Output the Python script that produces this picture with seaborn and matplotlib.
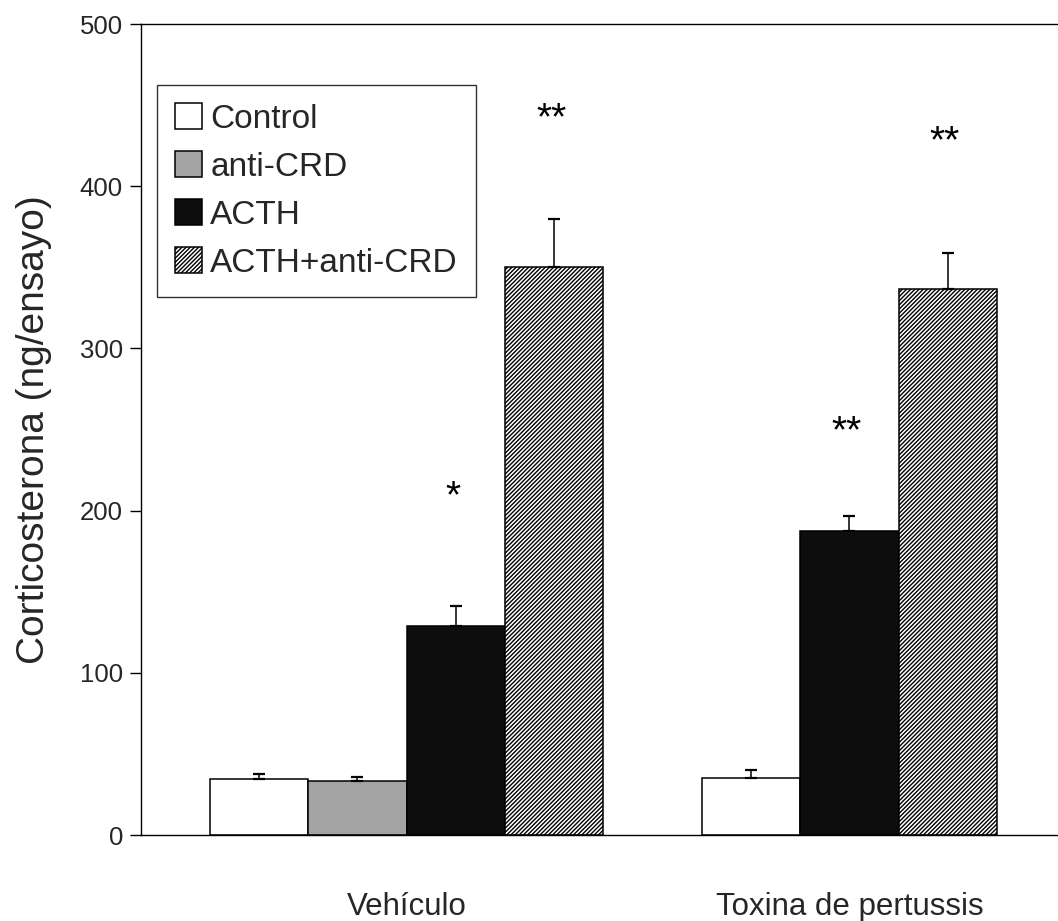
import matplotlib
matplotlib.use("Agg")
import matplotlib.pyplot as plt
import seaborn as sns
import pandas as pd
import numpy as np

# ---------------- data ----------------
groups = ["Vehículo", "Vehículo", "Vehículo", "Vehículo",
          "Toxina de pertussis", "Toxina de pertussis", "Toxina de pertussis"]
treatments = ["Control", "anti-CRD", "ACTH", "ACTH+anti-CRD",
              "Control", "ACTH", "ACTH+anti-CRD"]
means = [34.5, 33.5, 129, 350, 35.3, 187.4, 336.6]
sems = [3.0, 2.4, 12.0, 30.0, 4.7, 9.5, 22.5]
stars = ["", "", "*", "**", "", "**", "**"]
star_y = [None, None, 213, 446, None, 253, 432]

legend_order = ["Control", "anti-CRD", "ACTH", "ACTH+anti-CRD"]
group_labels = ["Vehículo", "Toxina de pertussis"]
yticks = [0, 100, 200, 300, 400, 500]
ylabel = "Corticosterona (ng/ensayo)"

# ---------------- layout / style ----------------
slot = [0, 1, 2, 3, 5, 6, 7]          # bar slots (gap between groups)
group_centers = [1.5, 6.0]
face = {"Control": "white", "anti-CRD": "#a3a3a3",
        "ACTH": "#0d0d0d", "ACTH+anti-CRD": "white"}
hatch = {"Control": "", "anti-CRD": "", "ACTH": "", "ACTH+anti-CRD": "////////"}

sns.set_theme(style="white")
plt.rcParams["font.family"] = ["Liberation Sans", "DejaVu Sans"]
plt.rcParams["hatch.linewidth"] = 1.0
plt.rcParams["hatch.color"] = "black"

df = pd.DataFrame({"slot": slot, "value": means, "treatment": treatments,
                   "group": groups, "sem": sems})

fig = plt.figure(figsize=(10.58, 9.21), dpi=100)
ax = fig.add_axes([141/1058, 1 - 835/921, 1 - 141/1058, (835 - 24)/921])

sns.barplot(data=df, x="slot", y="value", hue="treatment",
            hue_order=legend_order, palette=face, dodge=False,
            native_scale=True, width=1.0, errorbar=None,
            edgecolor="black", linewidth=1.1, legend=False, ax=ax)

for lvl, cont in zip(legend_order, ax.containers):
    for p in cont.patches:
        p.set_hatch(hatch[lvl])
        p.set_edgecolor("black")

# error bars (upper only)
ax.errorbar(df["slot"], df["value"], yerr=[np.zeros(len(df)), df["sem"]],
            fmt="none", ecolor="black", elinewidth=1.1, capsize=4.5,
            capthick=1.6, zorder=1)

# significance stars
for x, s, y in zip(slot, stars, star_y):
    if s:
        ax.annotate(s, xy=(x, y), xytext=(-2, -13), textcoords="offset points",
                    ha="center", va="baseline", fontsize=28, color="black")

ax.set_xlim(-1.2, 8.12)
ax.set_ylim(0, 500)
ax.set_yticks(yticks)
ax.set_yticklabels([str(t) for t in yticks], fontsize=18.5)
ax.set_xticks(group_centers)
ax.set_xticklabels(group_labels, fontsize=22.5)
ax.tick_params(axis="x", length=0, pad=41)
ax.tick_params(axis="y", length=8, width=1.0, pad=5, direction="out",
               left=True, color="black")
ax.set_xlabel("")
ax.set_ylabel(ylabel, fontsize=28, labelpad=20)

for side in ["left", "top", "bottom"]:
    ax.spines[side].set_visible(True)
    ax.spines[side].set_color("black")
    ax.spines[side].set_linewidth(1.0)
ax.spines["right"].set_visible(False)
ax.set_facecolor("white")
fig.patch.set_facecolor("white")

handles = [c.patches[0] for c in ax.containers[:4]]
leg = ax.legend(handles, legend_order, loc="upper left",
                bbox_to_anchor=((157 - 141)/917, (835 - 85)/811),
                borderaxespad=0, frameon=True, fancybox=False,
                edgecolor="black", fontsize=24, handlelength=0.8,
                handleheight=0.8, handletextpad=0.25, labelspacing=0.5,
                borderpad=0.55)
leg.get_frame().set_linewidth(1.0)

fig.savefig("out.png", dpi=100, facecolor="white")
